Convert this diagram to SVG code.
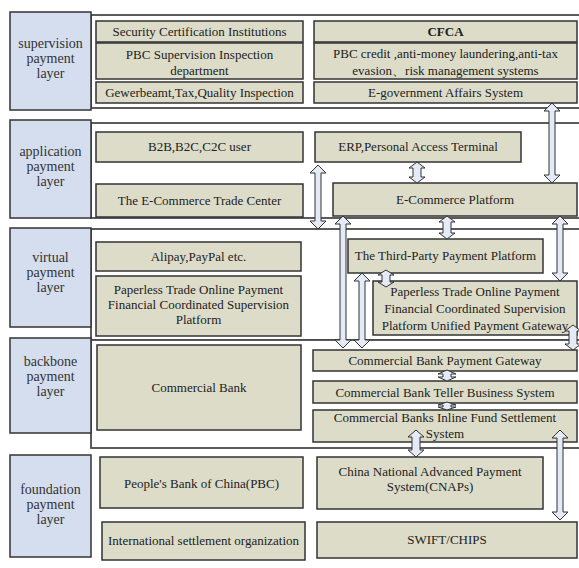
<svg xmlns="http://www.w3.org/2000/svg" width="579" height="568" viewBox="0 0 579 568">
<style>
.bg{fill:#ffffff}
.panel{fill:#ffffff;stroke:#4a4a4a;stroke-width:1.8}
.lbl{fill:#d4deee;stroke:#333333;stroke-width:1.5}
.box{fill:#dcdcc9;stroke:#333333;stroke-width:1.5}
.t{font-family:"Liberation Serif","Times New Roman",serif;font-size:13px;fill:#222222;text-anchor:middle}
.lt{font-family:"Liberation Serif","Times New Roman",serif;font-size:14px;fill:#333333;text-anchor:middle}
.b{font-weight:bold}
.arr{fill:#e4ebf7;stroke:#333333;stroke-width:1;stroke-linejoin:miter}
</style>
<rect class="bg" x="0" y="0" width="579" height="568"/>
<g id="panels">
<rect class="panel" x="91" y="15" width="495" height="93"/>
<rect class="panel" x="91" y="123" width="495" height="95"/>
<rect class="panel" x="91" y="229" width="495" height="111"/>
<rect class="panel" x="91" y="340" width="495" height="108"/>
</g>
<g id="layer-supervision">
<rect class="lbl" x="10" y="12" width="81" height="98"/>
<text class="lt" x="50.5" y="48">supervision</text>
<text class="lt" x="50.5" y="63">payment</text>
<text class="lt" x="50.5" y="78">layer</text>
</g>
<g id="layer-application">
<rect class="lbl" x="10" y="120" width="81" height="98"/>
<text class="lt" x="50.5" y="156">application</text>
<text class="lt" x="50.5" y="171">payment</text>
<text class="lt" x="50.5" y="186">layer</text>
</g>
<g id="layer-virtual">
<rect class="lbl" x="10" y="228" width="81" height="99"/>
<text class="lt" x="50.5" y="262">virtual</text>
<text class="lt" x="50.5" y="277">payment</text>
<text class="lt" x="50.5" y="292">layer</text>
</g>
<g id="layer-backbone">
<rect class="lbl" x="10" y="338" width="81" height="95"/>
<text class="lt" x="50.5" y="366">backbone</text>
<text class="lt" x="50.5" y="381">payment</text>
<text class="lt" x="50.5" y="396">layer</text>
</g>
<g id="layer-foundation">
<rect class="lbl" x="10" y="455" width="81" height="102"/>
<text class="lt" x="50.5" y="494">foundation</text>
<text class="lt" x="50.5" y="509">payment</text>
<text class="lt" x="50.5" y="524">layer</text>
</g>
<g id="security-cert">
<rect class="box" x="96" y="21" width="207" height="21"/>
<text class="t" x="199.5" y="36">Security Certification Institutions</text>
</g>
<g id="pbc-supervision">
<rect class="box" x="96" y="43" width="207" height="36"/>
<text class="t" x="199.5" y="59">PBC Supervision Inspection</text>
<text class="t" x="199.5" y="75">department</text>
</g>
<g id="gewerbeamt">
<rect class="box" x="96" y="82" width="207" height="21"/>
<text class="t" x="199.5" y="97">Gewerbeamt,Tax,Quality Inspection</text>
</g>
<g id="cfca">
<rect class="box" x="314" y="21" width="263" height="21"/>
<text class="t b" x="445.5" y="36">CFCA</text>
</g>
<g id="pbc-credit">
<rect class="box" x="314" y="43" width="263" height="36"/>
<text class="t" x="445.5" y="58">PBC credit ,anti-money laundering,anti-tax</text>
<text class="t" x="445.5" y="75">evasion、risk management systems</text>
</g>
<g id="egov">
<rect class="box" x="314" y="82" width="263" height="21"/>
<text class="t" x="445.5" y="97">E-government Affairs System</text>
</g>
<g id="b2b-user">
<rect class="box" x="96" y="132" width="207" height="30"/>
<text class="t" x="199.5" y="151">B2B,B2C,C2C user</text>
</g>
<g id="ecommerce-trade-center">
<rect class="box" x="96" y="184" width="207" height="33"/>
<text class="t" x="199.5" y="205">The E-Commerce Trade Center</text>
</g>
<g id="erp">
<rect class="box" x="315" y="132" width="206" height="30"/>
<text class="t" x="418" y="151">ERP,Personal Access Terminal</text>
</g>
<g id="ecommerce-platform">
<rect class="box" x="333" y="183" width="244" height="33"/>
<text class="t" x="455" y="204">E-Commerce Platform</text>
</g>
<g id="alipay">
<rect class="box" x="96" y="242" width="205" height="29"/>
<text class="t" x="198.5" y="261">Alipay,PayPal etc.</text>
</g>
<g id="paperless-left">
<rect class="box" x="96" y="276" width="205" height="60"/>
<text class="t" x="198.5" y="294">Paperless Trade Online Payment</text>
<text class="t" x="198.5" y="309">Financial Coordinated Supervision</text>
<text class="t" x="198.5" y="324">Platform</text>
</g>
<g id="third-party">
<rect class="box" x="348" y="239" width="195" height="34"/>
<text class="t" x="445.5" y="260">The Third-Party Payment Platform</text>
</g>
<g id="paperless-gateway">
<rect class="box" x="373" y="281" width="204" height="54"/>
<text class="t" x="475" y="296">Paperless Trade Online Payment</text>
<text class="t" x="475" y="313">Financial Coordinated Supervision</text>
<text class="t" x="475" y="330">Platform Unified Payment Gateway</text>
</g>
<g id="commercial-bank">
<rect class="box" x="97" y="345" width="204" height="85"/>
<text class="t" x="199" y="392">Commercial Bank</text>
</g>
<g id="bank-gateway">
<rect class="box" x="313" y="350" width="264" height="21"/>
<text class="t" x="445" y="365">Commercial Bank Payment Gateway</text>
</g>
<g id="bank-teller">
<rect class="box" x="313" y="381" width="264" height="22"/>
<text class="t" x="445" y="397">Commercial Bank Teller Business System</text>
</g>
<g id="bank-settlement">
<rect class="box" x="313" y="410" width="264" height="32"/>
<text class="t" x="445" y="422">Commercial Banks Inline Fund Settlement</text>
<text class="t" x="445" y="438">System</text>
</g>
<g id="pbc">
<rect class="box" x="100" y="457" width="203" height="51"/>
<text class="t" x="201.5" y="488">People's Bank of China(PBC)</text>
</g>
<g id="intl-settlement">
<rect class="box" x="102" y="522" width="203" height="38"/>
<text class="t" x="203.5" y="545">International settlement organization</text>
</g>
<g id="cnaps">
<rect class="box" x="317" y="457" width="226" height="52"/>
<text class="t" x="430" y="476">China National Advanced Payment</text>
<text class="t" x="430" y="491">System(CNAPs)</text>
</g>
<g id="swift">
<rect class="box" x="317" y="522" width="260" height="36"/>
<text class="t" x="447" y="544">SWIFT/CHIPS</text>
</g>
<g id="connectors">
<path class="arr" d="M552,103 L560,111 L555,111 L555,175 L560,175 L552,183 L544,175 L549,175 L549,111 L544,111 Z"/>
<path class="arr" d="M417,162 L425,168 L421,168 L421,177 L425,177 L417,183 L409,177 L413,177 L413,168 L409,168 Z"/>
<path class="arr" d="M318,165 L326,173 L321,173 L321,221 L326,221 L318,229 L310,221 L315,221 L315,173 L310,173 Z"/>
<path class="arr" d="M447,216 L455,222 L451,222 L451,233 L455,233 L447,239 L439,233 L443,233 L443,222 L439,222 Z"/>
<path class="arr" d="M343,216 L351,224 L346,224 L346,340 L351,340 L343,348 L335,340 L340,340 L340,224 L335,224 Z"/>
<path class="arr" d="M362,273 L370,281 L365,281 L365,340 L370,340 L362,348 L354,340 L359,340 L359,281 L354,281 Z"/>
<path class="arr" d="M386,270 L394,275 L390,275 L390,282 L394,282 L386,287 L378,282 L382,282 L382,275 L378,275 Z"/>
<path class="arr" d="M560,216 L568,224 L563,224 L563,273 L568,273 L560,281 L552,273 L557,273 L557,224 L552,224 Z"/>
<path class="arr" d="M573,325 L581,331 L577,331 L577,344 L581,344 L573,350 L565,344 L569,344 L569,331 L565,331 Z"/>
<path class="arr" d="M447,370 L456,374 L451,374 L451,377 L456,377 L447,381 L438,377 L443,377 L443,374 L438,374 Z"/>
<path class="arr" d="M447,402 L456,405 L451,405 L451,407 L456,407 L447,410 L438,407 L443,407 L443,405 L438,405 Z"/>
<path class="arr" d="M416,430 L424,437 L420,437 L420,450 L424,450 L416,457 L408,450 L412,450 L412,437 L408,437 Z"/>
<path class="arr" d="M560,430 L568,438 L563,438 L563,512 L568,512 L560,520 L552,512 L557,512 L557,438 L552,438 Z"/>
</g>
</svg>
